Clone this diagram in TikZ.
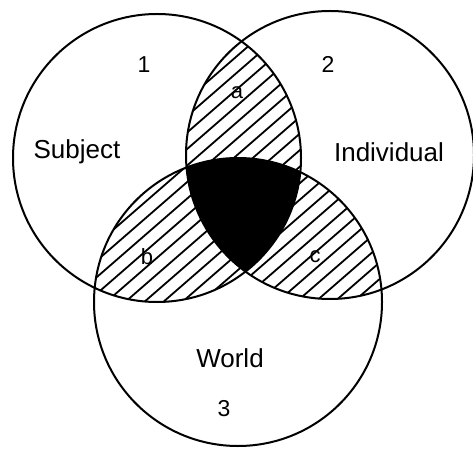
\documentclass[tikz,border=0pt]{standalone}
\usepackage{fontspec}
\setmainfont{Liberation Sans}
\tikzset{
  ring/.style={line width=2pt,draw=black},
  hatchline/.style={line width=1.8pt,draw=black},
  core/.style={fill=black},
  word/.style={font=\fontsize{26}{30}\selectfont,inner sep=0pt},
  num/.style={font=\fontsize{23}{27}\selectfont,inner sep=0pt},
  part/.style={font=\fontsize{22}{26}\selectfont,inner sep=0pt}
}
\newcommand{\vennR}{144}
\newcommand{\hatchall}{%
  \foreach \k in {-520,-501,...,480}
    \draw[hatchline] (\k,0) -- ++(560,487);}

\begin{document}
\begin{tikzpicture}[x=1pt,y=1pt]
  \useasboundingbox (0,0) rectangle (473,450);
  \coordinate (subj) at (157,292);
  \coordinate (indiv) at (330,295);
  \coordinate (world) at (238,148);

  % hatched overlaps of two sets
  \begin{scope}
    \clip (subj) circle (\vennR);
    \clip (indiv) circle (\vennR);
    \hatchall
  \end{scope}
  \begin{scope}
    \clip (subj) circle (\vennR);
    \clip (world) circle (\vennR);
    \hatchall
  \end{scope}
  \begin{scope}
    \clip (indiv) circle (\vennR);
    \clip (world) circle (\vennR);
    \hatchall
  \end{scope}

  % overlap of all three
  \begin{scope}
    \clip (subj) circle (\vennR);
    \clip (indiv) circle (\vennR);
    \fill[core] (world) circle (\vennR);
  \end{scope}

  \draw[ring] (subj) circle (\vennR);
  \draw[ring] (indiv) circle (\vennR);
  \draw[ring] (world) circle (\vennR);

  \node[num] (one) at (144,385) {1};
  \node[num] (two) at (328,386) {2};
  \node[num] (three) at (224,41) {3};
  \node[word] (subjtext) at (77,298) {Subject};
  \node[word] (indivtext) at (389,298) {Individual};
  \node[word] (worldtext) at (230,92) {World};
  \node[part] (parta) at (237,357) {a};
  \node[part] (partb) at (147,193) {b};
  \node[part] (partc) at (315,193) {c};
\end{tikzpicture}
\end{document}
